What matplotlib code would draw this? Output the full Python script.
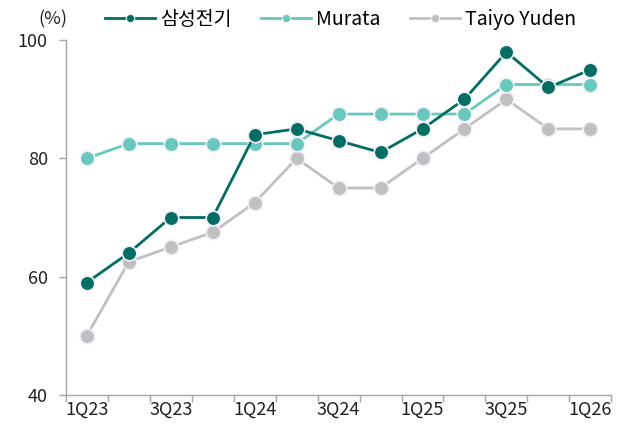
import numpy as np
import matplotlib.pyplot as plt
from matplotlib.lines import Line2D

plt.rcParams['font.family'] = ['Noto Sans CJK KR', 'DejaVu Sans']

quarters = ['1Q23', '2Q23', '3Q23', '4Q23', '1Q24', '2Q24', '3Q24',
            '4Q24', '1Q25', '2Q25', '3Q25', '4Q25', '1Q26']
samsung = [59, 64, 70, 70, 84, 85, 83, 81, 85, 90, 98, 92, 95]
murata = [80, 82.5, 82.5, 82.5, 82.5, 82.5, 87.5, 87.5, 87.5, 87.5, 92.5, 92.5, 92.5]
taiyo = [50, 62.5, 65, 67.5, 72.5, 80, 75, 75, 80, 85, 90, 85, 85]

names = ['삼성전기', 'Murata', 'Taiyo Yuden']
colors = ['#006E62', '#66C9BB', '#C0C0C0']

fig = plt.figure(figsize=(6.27, 4.32), dpi=100)
ax = fig.add_axes([0.105, 0.086, 0.87, 0.821])

x = np.arange(len(quarters))
# draw back to front: Taiyo, Murata, Samsung
for vals, c, z in [(taiyo, colors[2], 2), (murata, colors[1], 3), (samsung, colors[0], 4)]:
    ax.plot(x, vals, color=c, lw=2, marker='o', ms=10.5,
            mfc=c, mec='#F3EEFA', mew=1.2, zorder=z)

ax.set_xlim(-0.5, len(quarters) - 0.5)
ax.set_ylim(40, 100)
ax.set_yticks([40, 60, 80, 100])
ax.set_xticks(np.arange(-0.5, len(quarters), 1), minor=False)
ax.set_xticklabels([])
ax.set_xticks(x[::2], minor=True)
ax.set_xticklabels(quarters[::2], minor=True)
ax.tick_params(axis='x', which='major', length=5, color='#A6A6A6', width=1)
ax.tick_params(axis='x', which='minor', length=0, labelsize=13, pad=4, colors='#222222')
ax.tick_params(axis='y', length=5, color='#A6A6A6', width=1, labelsize=13,
               pad=8, labelcolor='#222222')
for s in ['top', 'right']:
    ax.spines[s].set_visible(False)
for s in ['left', 'bottom']:
    ax.spines[s].set_color('#A6A6A6')
    ax.spines[s].set_linewidth(1)

fig.text(0.062, 0.955, '(%)', fontsize=13, color='#222222', va='center', ha='left')

handles = [Line2D([], [], color=c, lw=2, marker='o', ms=6, mec='#F3EEFA', mew=0.8)
           for c in colors]
fig.legend(handles, names, loc='center left', bbox_to_anchor=(0.167, 0.955),
           ncol=3, frameon=False, fontsize=14, handlelength=2.6,
           handletextpad=0.25, columnspacing=1.5, borderaxespad=0, borderpad=0)

fig.savefig('out.png', dpi=100)
